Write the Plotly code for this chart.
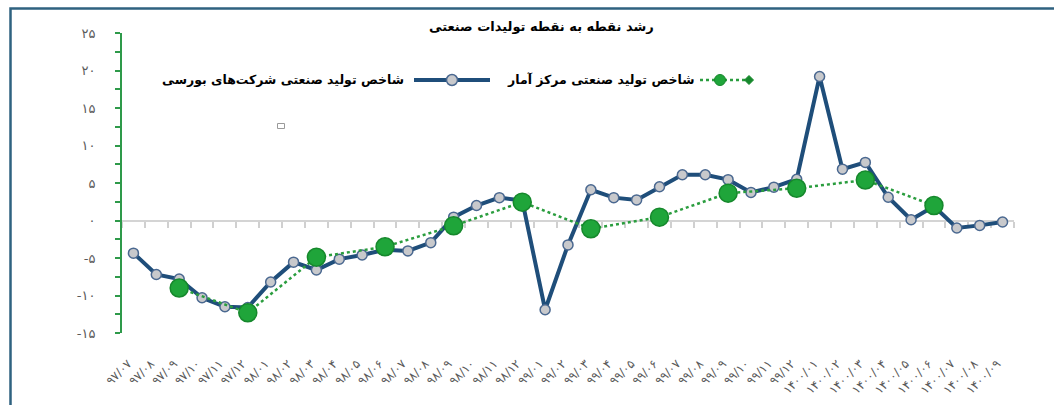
import plotly.graph_objects as go

categories = ["۹۷/۰۷", "۹۷/۰۸", "۹۷/۰۹", "۹۷/۱۰", "۹۷/۱۱", "۹۷/۱۲",
              "۹۸/۰۱", "۹۸/۰۲", "۹۸/۰۳", "۹۸/۰۴", "۹۸/۰۵", "۹۸/۰۶",
              "۹۸/۰۷", "۹۸/۰۸", "۹۸/۰۹", "۹۸/۱۰", "۹۸/۱۱", "۹۸/۱۲",
              "۹۹/۰۱", "۹۹/۰۲", "۹۹/۰۳", "۹۹/۰۴", "۹۹/۰۵", "۹۹/۰۶",
              "۹۹/۰۷", "۹۹/۰۸", "۹۹/۰۹", "۹۹/۱۰", "۹۹/۱۱", "۹۹/۱۲",
              "۱۴۰۰/۰۱", "۱۴۰۰/۰۲", "۱۴۰۰/۰۳", "۱۴۰۰/۰۴", "۱۴۰۰/۰۵",
              "۱۴۰۰/۰۶", "۱۴۰۰/۰۷", "۱۴۰۰/۰۸", "۱۴۰۰/۰۹"]

bourse_index = [-4.35, -7.2, -7.8, -10.3, -11.5, -11.6, -8.2, -5.55, -6.6, -5.15,
                -4.6, -3.9, -4.05, -2.95, 0.45, 2.0, 3.05, 2.65, -11.9, -3.25,
                4.1, 3.05, 2.75, 4.5, 6.1, 6.1, 5.45, 3.75, 4.45, 5.5,
                19.2, 6.85, 7.75, 3.1, 0.1, 1.9, -1.0, -0.65, -0.2]

sci_index = [None, None, -9.0, None, None, -12.3, None, None, -4.9, None,
             None, -3.5, None, None, -0.7, None, None, 2.45, None, None,
             -1.1, None, None, 0.45, None, None, 3.65, None, None, 4.3,
             None, None, 5.4, None, None, 2.0, None, None, None]

y_tickvals = [-15, -10, -5, 0, 5, 10, 15, 20, 25]
y_ticktext = ["-۱۵", "-۱۰", "-۵", "۰", "۵", "۱۰", "۱۵", "۲۰", "۲۵"]

title_text = "رشد نقطه به نقطه تولیدات صنعتی"
name_bourse = "شاخص تولید صنعتی شرکت‌های بورسی"
name_sci = "شاخص تولید صنعتی مرکز آمار"

NAVY = "#1f4e7a"
GREEN = "#1fa53a"
GREEN_DARK = "#16882c"
AXIS_GREEN = "#2e9a4a"
FONT = "DejaVu Sans"

W, H = 1054, 405
L, R, T, B = 122, 40, 33, 72
PW, PH = W - L - R, H - T - B


def px(x):
    return (x - L) / PW


def py(y):
    return (H - B - y) / PH


fig = go.Figure()

fig.add_trace(go.Scatter(
    x=categories, y=bourse_index, mode="lines+markers", name=name_bourse,
    line=dict(color=NAVY, width=4),
    marker=dict(size=10, color="#c8c9cc", line=dict(color="#4a6890", width=1.5)),
    xaxis="x", yaxis="y", showlegend=False))

fig.add_trace(go.Scatter(
    x=categories, y=sci_index, mode="lines+markers", name=name_sci,
    connectgaps=True,
    line=dict(color="#2a9d3e", width=2.5, dash="dot"),
    marker=dict(size=18, color=GREEN, line=dict(color=GREEN_DARK, width=1.5)),
    xaxis="x2", yaxis="y", showlegend=False))

shapes = []
annotations = []

# frame
shapes.append(dict(type="rect", xref="paper", yref="paper",
                   x0=px(10.5), x1=px(1070), y0=py(420), y1=py(8.5),
                   line=dict(color="#2f6280", width=2.5), fillcolor="rgba(0,0,0,0)",
                   layer="below"))

# legend: green item (right)
ly = py(80)
shapes.append(dict(type="line", xref="paper", yref="paper",
                   x0=px(700), x1=px(746), y0=ly, y1=ly,
                   line=dict(color="#2a9d3e", width=2.5, dash="dot")))
shapes.append(dict(type="circle", xref="paper", yref="paper",
                   xsizemode="pixel", ysizemode="pixel",
                   xanchor=px(720), yanchor=ly, x0=-5.5, x1=5.5, y0=-5.5, y1=5.5,
                   fillcolor=GREEN, line=dict(color=GREEN_DARK, width=1)))
shapes.append(dict(type="path", xref="paper", yref="paper",
                   xsizemode="pixel", ysizemode="pixel",
                   xanchor=px(749), yanchor=ly,
                   path="M -4.5 0 L 0 4.5 L 4.5 0 L 0 -4.5 Z",
                   fillcolor=GREEN_DARK, line=dict(color=GREEN_DARK, width=1)))
annotations.append(dict(xref="paper", yref="paper", x=px(696), y=ly,
                        xanchor="right", yanchor="middle", showarrow=False,
                        text="<b>" + name_sci + "</b>",
                        font=dict(family=FONT, size=12.5, color="#000000")))

# legend: navy item (left)
shapes.append(dict(type="line", xref="paper", yref="paper",
                   x0=px(414), x1=px(490), y0=ly, y1=ly,
                   line=dict(color=NAVY, width=4)))
shapes.append(dict(type="circle", xref="paper", yref="paper",
                   xsizemode="pixel", ysizemode="pixel",
                   xanchor=px(452), yanchor=ly, x0=-5.5, x1=5.5, y0=-5.5, y1=5.5,
                   fillcolor="#c8c9cc", line=dict(color="#4a6890", width=1.5)))
annotations.append(dict(xref="paper", yref="paper", x=px(406), y=ly,
                        xanchor="right", yanchor="middle", showarrow=False,
                        text="<b>" + name_bourse + "</b>",
                        font=dict(family=FONT, size=12.5, color="#000000")))

# small stray box
shapes.append(dict(type="rect", xref="paper", yref="paper",
                   xsizemode="pixel", ysizemode="pixel",
                   xanchor=px(281), yanchor=py(126), x0=-3.5, x1=3.5, y0=-2.5, y1=2.5,
                   fillcolor="rgba(0,0,0,0)", line=dict(color="#9a9a9a", width=1)))

# title
annotations.append(dict(xref="paper", yref="paper", x=px(541), y=py(27),
                        xanchor="center", yanchor="middle", showarrow=False,
                        text="<b>" + title_text + "</b>",
                        font=dict(family=FONT, size=13, color="#000000")))

fig.update_layout(
    width=W, height=H,
    margin=dict(l=L, r=R, t=T, b=B, autoexpand=False),
    paper_bgcolor="white", plot_bgcolor="white",
    font=dict(family=FONT),
    showlegend=False,
    shapes=shapes,
    annotations=annotations,
    xaxis=dict(type="category", range=[-0.5, len(categories) - 0.5],
               automargin=False,
               tickmode="array", tickvals=categories,
               ticktext=[c + "\u00a0\u00a0" for c in categories],
               showline=False, showgrid=False, zeroline=False, ticks="",
               tickangle=-45, tickfont=dict(family=FONT, size=12, color="#5a5a5a"),
               ticklabelstandoff=15),
    xaxis2=dict(type="category", overlaying="x", matches="x", anchor="free", position=0.375,
                automargin=False,
                showline=True, linecolor="#d4d4d4", linewidth=2,
                ticks="outside", tickson="boundaries", ticklen=6, tickwidth=1.5,
                tickcolor="#d0d0d0", showticklabels=False, showgrid=False,
                zeroline=False, layer="below traces"),
    yaxis=dict(range=[-15, 25], tickvals=y_tickvals, ticktext=y_ticktext,
               automargin=False,
               showline=True, linecolor=AXIS_GREEN, linewidth=2,
               ticks="outside", ticklen=5, tickwidth=1.5, tickcolor=AXIS_GREEN,
               minor=dict(dtick=2.5, tick0=0, ticks="outside", ticklen=5,
                          tickwidth=1.5, tickcolor=AXIS_GREEN),
               showgrid=False, zeroline=False,
               tickfont=dict(family=FONT, size=13, color="#5a5a5a"),
               ticklabelstandoff=17),
)

fig.write_html("out.html", config={"displayModeBar": False},
               post_script="document.body.style.margin='0';document.body.style.overflow='hidden';")
